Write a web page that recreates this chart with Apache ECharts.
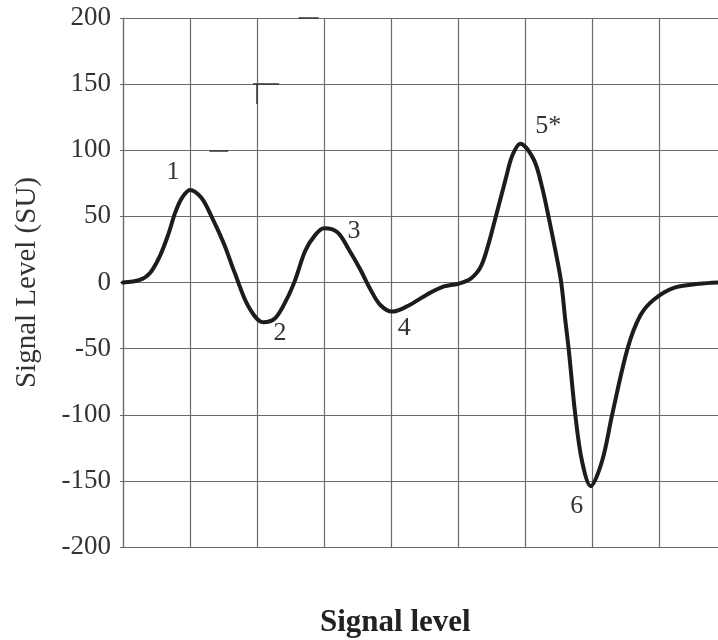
<!DOCTYPE html>
<html>
<head>
<meta charset="utf-8">
<script src="https://cdn.jsdelivr.net/npm/echarts@6/dist/echarts.min.js"></script>
<style>
  html, body { margin: 0; padding: 0; background: #fff; }
  #chart { width: 718px; height: 640px; }
</style>
</head>
<body>
<div id="chart"></div>
<script>
// signal trace (x in grid units, y in SU)
var traceX = [0, 0.25, 0.4, 0.55, 0.68, 0.78, 0.88, 1.0, 1.17, 1.32, 1.5, 1.67, 1.87, 2.09, 2.27, 2.44, 2.57, 2.72, 2.87, 3.0, 3.2, 3.37, 3.54, 3.69, 3.84, 4.02, 4.24, 4.54, 4.79, 5.0, 5.19, 5.34, 5.46, 5.58, 5.71, 5.81, 5.93, 6.13, 6.25, 6.35, 6.45, 6.54, 6.6, 6.655, 6.75, 6.85, 6.98, 7.15, 7.3, 7.53, 7.72, 7.92, 8.22, 8.6, 8.88];
var traceY = [0, 2, 7, 20, 37, 53, 64, 70, 64, 50, 30, 7, -18, -30, -27, -13, 2, 24, 36, 41, 38, 25, 10, -5, -17, -22, -18, -9, -3, -1, 3, 12, 30, 53, 78, 96, 105, 93, 73, 50, 25, 0, -28, -52, -100, -135, -154, -135, -100, -50, -25, -13, -4, -1, 0];

// numbered peaks: label text and index of the point in the trace
var peakNames = ['1', '2', '3', '4', '5*', '6'];
var peakIndex = [7, 13, 19, 25, 36, 46];
var peakOffsets = [[-17, -18], [17, 11], [30, 3], [12, 17], [28, -17], [-14, 20]];

var yTicks = [-200, -150, -100, -50, 0, 50, 100, 150, 200];

// small stray strokes present in the scanned figure
var strays = [
  [[2.62, 200], [2.92, 200]],
  [[1.94, 150], [2.33, 150]],
  [[1.99, 150], [1.99, 135]],
  [[1.29, 100], [1.57, 100]]
];

var serif = '"Liberation Serif", "Times New Roman", serif';
var gridColor = '#6b6b6b';

var chart = echarts.init(document.getElementById('chart'));

var points = traceX.map(function (x, i) { return [x, traceY[i]]; });

var option = {
  animation: false,
  backgroundColor: '#fff',
  title: {
    text: 'Signal level',
    left: 320,
    top: 607,
    padding: 0,
    textStyle: { fontFamily: serif, fontWeight: 'bold', fontSize: 31, color: '#222' }
  },
  grid: { left: 123, right: 0, top: 18, bottom: 93 },
  xAxis: {
    type: 'value',
    min: 0,
    max: 8.88,
    interval: 1,
    axisLine: { onZero: false, lineStyle: { color: gridColor, width: 1.2 } },
    axisTick: { show: false },
    axisLabel: { show: false },
    splitLine: { show: true, showMaxLine: false, lineStyle: { color: gridColor, width: 1.2 } }
  },
  yAxis: {
    type: 'value',
    min: yTicks[0],
    max: yTicks[yTicks.length - 1],
    interval: 50,
    name: 'Signal Level (SU)',
    nameLocation: 'middle',
    nameGap: 81,
    nameTextStyle: { fontFamily: serif, fontSize: 29, color: '#333' },
    axisLine: { show: true, lineStyle: { color: gridColor, width: 1.2 } },
    axisTick: { show: true, length: 3, lineStyle: { color: gridColor } },
    axisLabel: { fontFamily: serif, fontSize: 27, color: '#333', margin: 12 },
    splitLine: { show: true, lineStyle: { color: gridColor, width: 1.2 } }
  },
  series: [{
    type: 'line',
    data: points,
    smooth: 0.33,
    showSymbol: false,
    lineStyle: { color: '#1c1c1c', width: 4, join: 'round', cap: 'round' },
    markPoint: {
      symbol: 'circle',
      symbolSize: 0,
      label: {
        show: true,
        position: 'inside',
        fontFamily: serif,
        fontSize: 26,
        color: '#333',
        formatter: '{b}'
      },
      data: peakNames.map(function (n, i) {
        var p = points[peakIndex[i]];
        return { name: n, coord: p, label: { offset: peakOffsets[i] } };
      })
    },
    markLine: {
      silent: true,
      symbol: 'none',
      label: { show: false },
      lineStyle: { color: '#333', type: 'solid', width: 1.5 },
      data: strays.map(function (s) {
        return [{ coord: s[0] }, { coord: s[1] }];
      })
    }
  }]
};

chart.setOption(option);
window.addEventListener('resize', function () {
  chart.resize();
});
</script>
</body>
</html>
